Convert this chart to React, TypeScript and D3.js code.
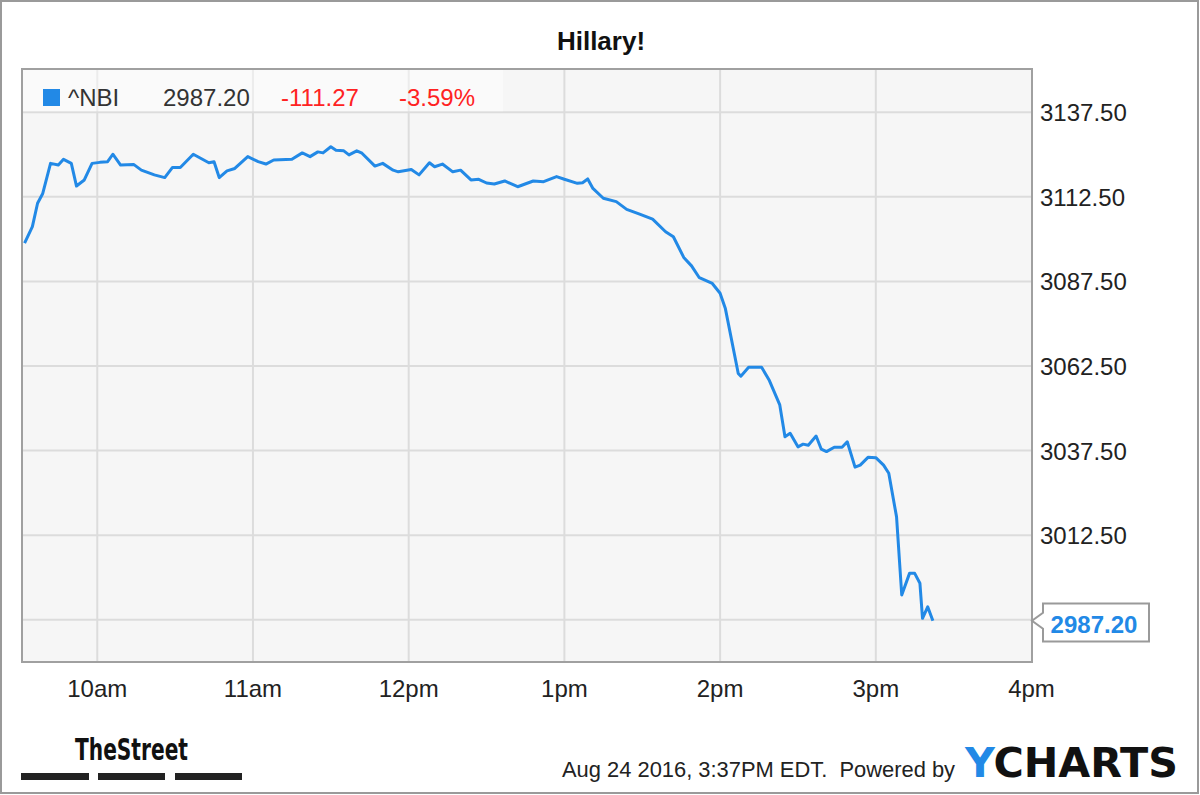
import React from "react";
import * as d3 from "d3";

const title = "Hillary!";
const ticker = "^NBI";
const lastPrice = "2987.20";
const change = "-111.27";
const changePct = "-3.59%";
const stamp = "Aug 24 2016, 3:37PM EDT.  Powered by";

const times = [
  "09:32","09:35","09:37","09:39","09:42","09:45","09:47","09:50","09:52","09:55","09:58",
  "10:01","10:04","10:06","10:09","10:14","10:17","10:22","10:26","10:29","10:32","10:37",
  "10:43","10:45","10:47","10:50","10:53","10:58","11:02","11:05","11:08","11:15","11:19",
  "11:22","11:25","11:27","11:30","11:32","11:35","11:37","11:40","11:42","11:47","11:50",
  "11:54","11:56","12:01","12:04","12:08","12:10","12:13","12:17","12:20","12:24","12:27",
  "12:30","12:33","12:37","12:42","12:48","12:52","12:57","13:00","13:05","13:07","13:09",
  "13:11","13:15","13:20","13:24","13:29","13:34","13:39","13:42","13:46","13:49","13:52",
  "13:57","14:00","14:02","14:07","14:08","14:11","14:16","14:19","14:23","14:25","14:27",
  "14:30","14:32","14:34","14:37","14:39","14:41","14:44","14:47","14:49","14:52","14:54",
  "14:57","15:00","15:03","15:05","15:08","15:10","15:13","15:15","15:17","15:18","15:20","15:22"
];

const values = [
  3098.8,3103.7,3110.6,3113.5,3122.4,3121.9,3123.6,3122.4,3115.7,3117.5,3122.4,
  3122.7,3122.9,3125.1,3121.9,3122.1,3120.4,3119.0,3118.2,3121.2,3121.2,3125.1,
  3122.6,3122.9,3118.2,3120.2,3120.9,3124.4,3122.9,3122.2,3123.4,3123.6,3125.5,
  3124.4,3125.8,3125.5,3127.3,3126.3,3126.1,3124.9,3126.1,3125.4,3121.6,3122.4,
  3120.4,3119.9,3120.6,3119.0,3122.6,3121.4,3122.2,3119.9,3120.4,3117.5,3117.7,
  3116.6,3116.3,3117.2,3115.5,3117.2,3117.0,3118.5,3117.7,3116.5,3116.7,3117.8,
  3115.0,3112.1,3111.1,3108.8,3107.4,3105.9,3102.2,3100.7,3094.6,3092.1,3088.6,
  3086.9,3084.0,3079.6,3060.3,3059.5,3062.1,3062.1,3058.2,3051.0,3041.6,3042.6,
  3038.6,3039.4,3039.1,3041.8,3037.9,3037.2,3038.5,3038.5,3040.1,3032.6,3033.2,
  3035.5,3035.4,3033.2,3030.8,3017.9,2994.8,3001.2,3001.2,2998.3,2987.9,2991.3,2987.2
];

const yTicks = [2987.5, 3012.5, 3037.5, 3062.5, 3087.5, 3112.5, 3137.5];
const xTickTimes = ["10:00", "11:00", "12:00", "13:00", "14:00", "15:00", "16:00"];
const xTickLabels = ["10am", "11am", "12pm", "1pm", "2pm", "3pm", "4pm"];

const FONT = "'Liberation Sans', Arial, sans-serif";
const BLUE = "#2289e6";

export default function App() {
  React.useEffect(() => {
    document.body.style.margin = "0";
  }, []);

  const parse = d3.timeParse("%H:%M");
  const left = 22, right = 1032, top = 69, bottom = 662;
  const x = d3.scaleTime().domain([parse("09:31")!, parse("16:00")!]).range([left, 1031.5]);
  const y = d3.scaleLinear().domain([2975, 3150.3]).range([bottom, top]);

  const data = times.map((t, i) => ({ t: parse(t)!, v: values[i] }));
  const line = d3.line<{ t: Date; v: number }>().x(d => x(d.t)).y(d => y(d.v));
  const lastY = y(values[values.length - 1]);

  return (
    <svg width={1200} height={795} style={{ display: "block" }} fontFamily={FONT}>
      <rect x={0} y={0} width={1200} height={795} fill="#fff" />
      <rect x={1} y={1} width={1197} height={792} fill="none" stroke="#9a9a9a" strokeWidth={2} />
      <text x={601} y={50} textAnchor="middle" fontWeight="bold" fontSize={26} fill="#111">{title}</text>

      <rect x={left} y={top} width={right - left} height={bottom - top} fill="#f6f6f6" />
      {yTicks.map(v => (
        <line key={v} x1={left} x2={right} y1={y(v)} y2={y(v)} stroke="#dcdcdc" strokeWidth={2} />
      ))}
      {xTickTimes.slice(0, -1).map(t => (
        <line key={t} x1={x(parse(t)!)} x2={x(parse(t)!)} y1={top} y2={bottom} stroke="#dcdcdc" strokeWidth={2} />
      ))}
      <rect x={left + 1} y={top + 1} width={480} height={y(3137.5) - top - 2} fill="#fff" fillOpacity={0.45} />

      <path d={line(data) ?? ""} fill="none" stroke={BLUE} strokeWidth={3} strokeLinejoin="round" />

      <rect x={left} y={top} width={right - left} height={bottom - top} fill="none" stroke="#a0a0a0" strokeWidth={2} />

      <rect x={43} y={89} width={17} height={17} fill={BLUE} />
      <text x={68} y={106} fontSize={24} fill="#333">{ticker}</text>
      <text x={163} y={106} fontSize={24} fill="#333">{lastPrice}</text>
      <text x={281} y={106} fontSize={24} fill="#f22">{change}</text>
      <text x={399} y={106} fontSize={24} fill="#f22">{changePct}</text>

      {yTicks.slice(1).map(v => (
        <text key={v} x={1040} y={y(v) + 9} fontSize={24} fill="#222">{v.toFixed(2)}</text>
      ))}

      <path
        d={`M1043,603.5 H1149 V641.5 H1043 V${lastY + 8} L1032,${lastY} L1043,${lastY - 8} Z`}
        fill="#fff" stroke="#9a9a9a" strokeWidth={2}
      />
      <text x={1094} y={633} textAnchor="middle" fontSize={24} fontWeight="bold" fill={BLUE}>{lastPrice}</text>

      {xTickTimes.map((t, i) => (
        <text key={t} x={x(parse(t)!)} y={697} textAnchor="middle" fontSize={24} fill="#222">{xTickLabels[i]}</text>
      ))}

      <text x={75} y={760} fontSize={30} fontWeight="bold" fill="#111"
        fontFamily="'Liberation Sans Narrow', 'DejaVu Sans Condensed', sans-serif"
        textLength={113} lengthAdjust="spacingAndGlyphs">TheStreet</text>
      <rect x={21} y={773} width={68} height={7} fill="#222" />
      <rect x={98} y={773} width={67} height={7} fill="#222" />
      <rect x={175} y={773} width={67} height={7} fill="#222" />

      <text x={562} y={777} fontSize={22} fill="#222" textLength={393} lengthAdjust="spacingAndGlyphs"
        style={{ whiteSpace: "pre" }}>{stamp}</text>
      <text x={965} y={777} fontSize={40} fontWeight="bold" fill="#111" textLength={213}
        lengthAdjust="spacingAndGlyphs" fontFamily="'DejaVu Sans', sans-serif">
        <tspan fill={BLUE}>Y</tspan>CHARTS
      </text>
    </svg>
  );
}
